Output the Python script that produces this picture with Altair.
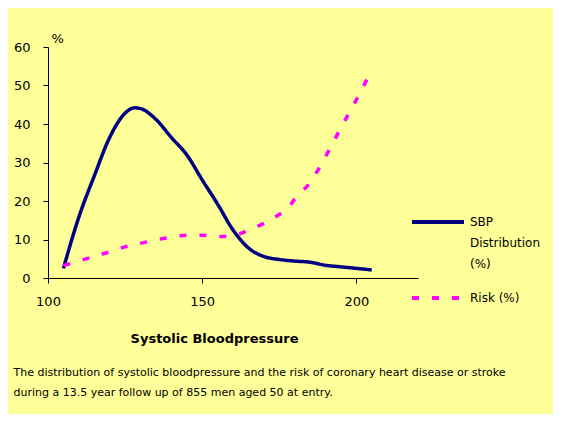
import altair as alt
import pandas as pd

series = ["SBP Distribution (%)", "Risk (%)"]

sbp_x = [105, 110, 115, 120, 125, 128, 130, 135, 140, 145, 150, 155, 160, 165, 170, 175, 180, 185, 190, 195, 200, 205]
sbp_y = [2.5, 15.8, 26.5, 36.5, 42.8, 44.2, 44.0, 41.2, 36.5, 32.0, 25.5, 19.2, 12.5, 7.8, 5.6, 4.8, 4.4, 4.1, 3.3, 2.9, 2.5, 2.1]

risk_x = [105, 110, 115, 120, 125, 130, 135, 140, 145, 150, 155, 160, 165, 170, 175, 178, 180, 185, 190, 195, 200, 205]
risk_y = [3.2, 4.4, 5.6, 6.8, 8.1, 9.0, 9.9, 10.6, 11.1, 11.1, 10.8, 11.0, 12.4, 14.2, 16.5, 18.3, 20.5, 24.8, 31.5, 39.0, 46.3, 54.0]

x_ticks = [100, 150, 200]
y_ticks = [0, 10, 20, 30, 40, 50, 60]

caption = [
    "The distribution of systolic bloodpressure and the risk of coronary heart disease or stroke",
    "during a 13.5 year follow  up of 855 men aged 50 at entry.",
]

df = pd.concat([
    pd.DataFrame({"sbp": sbp_x, "val": sbp_y, "series": series[0], "order": 1}),
    pd.DataFrame({"sbp": risk_x, "val": risk_y, "series": series[1], "order": 0}),
])

legend = alt.Legend(
    title=None, orient="none", legendX=362, legendY=147,
    symbolType="stroke", symbolSize=2704, symbolStrokeWidth=4,
    labelFont="DejaVu Sans", labelFontSize=12, labelColor="black",
    labelOffset=4, rowPadding=0, padding=0,
    labelExpr="datum.label == 'SBP Distribution (%)' ? ['SBP', 'Distribution', '(%)'] : datum.label",
)

chart = alt.Chart(df).mark_line(strokeWidth=3.5, interpolate="monotone").encode(
    x=alt.X("sbp:Q",
            scale=alt.Scale(domain=[100, 220], nice=False, zero=False),
            axis=alt.Axis(values=x_ticks, title="Systolic Bloodpressure",
                          titleFont="DejaVu Sans", titleFontSize=13, titleFontWeight="bold",
                          titleColor="black", titleX=166, titleY=60, titleBaseline="middle",
                          titleAlign="center",
                          labelFont="DejaVu Sans", labelFontSize=13, labelColor="black",
                          labelPadding=12, tickSize=5, tickColor="black", domainColor="black",
                          grid=False, labelFlush=False)),
    y=alt.Y("val:Q",
            scale=alt.Scale(domain=[0, 60], nice=False),
            axis=alt.Axis(values=y_ticks, title="%", titleAngle=0, titleX=3, titleY=-9,
                          titleAlign="left", titleBaseline="middle",
                          titleFont="DejaVu Sans", titleFontSize=13, titleFontWeight="normal",
                          titleColor="black",
                          labelFont="DejaVu Sans", labelFontSize=13, labelColor="black",
                          labelPadding=13, tickSize=5, tickColor="black", domainColor="black",
                          grid=False)),
    color=alt.Color("series:N", scale=alt.Scale(domain=series, range=["#000080", "#FF00FF"]),
                    legend=legend),
    strokeDash=alt.StrokeDash("series:N", scale=alt.Scale(domain=series, range=[[1, 0], [7, 13]]),
                              legend=legend),
    order=alt.Order("order:Q"),
).properties(
    width=370, height=231,
    autosize=alt.AutoSizeParams(type="none"),
    padding={"left": 40, "top": 39, "right": 135, "bottom": 136},
    title=alt.TitleParams(text=caption, orient="bottom", anchor="start", dx=0, offset=22,
                          font="DejaVu Sans", fontSize=11, fontWeight="normal", color="black",
                          lineHeight=20),
).configure(
    background="#FFFF99",
    style={"guide-label": {"lineHeight": 21}},
).configure_view(
    stroke=None,
)

chart.save("out.html", embed_options={"renderer": "svg", "actions": False})
